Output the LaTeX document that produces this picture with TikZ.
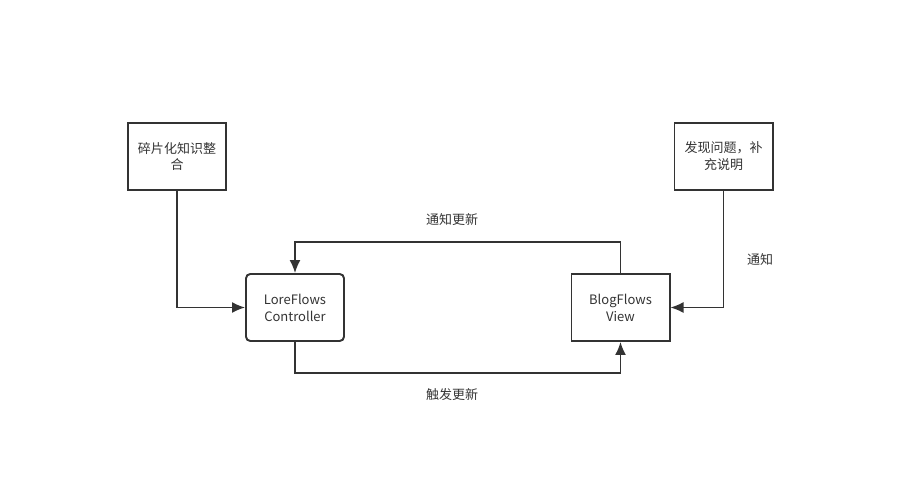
\documentclass[tikz,border=0pt]{standalone}
\usepackage{fontspec}
\setmainfont{Noto Sans CJK SC}
\usepackage{xcolor}
\usepackage{tikz}
\usetikzlibrary{positioning}
\usetikzlibrary{arrows.meta}
\definecolor{ink}{HTML}{333333}
\tikzset{>={Latex[width=2.2mm,length=2.6mm]}}

\begin{document}
\begin{tikzpicture}[x=0.02cm, y=-0.02cm, box/.style={rectangle, draw=ink, line width=1.1pt, minimum width=2cm-1.1pt, minimum height=1.38cm-1.1pt, align=center, text=ink, font=\fontsize{7.4}{9.6}\selectfont}, roundbox/.style={box, rounded corners=2.5pt}, lbl/.style={text=ink, font=\fontsize{7.4}{9.6}\selectfont}, link/.style={draw=ink, line width=0.85pt}]
    \useasboundingbox (0,0) rectangle (901,476);

    %Nodes
    \node[box](frag) at (177,156.5){碎片化知识整\\合};
    \node[box](issue) at (723.5,156.5){发现问题，补\\充说明};
    \node[roundbox](ctrl) at (295,307.5){LoreFlows\\Controller};
    \node[box](view) at (620.5,307.5){BlogFlows\\View};
    \node[lbl](notify_upd) at (452,220){通知更新};
    \node[lbl](trigger_upd) at (452,395){触发更新};
    \node[lbl](notify) at (760,260){通知};

    %Lines
    \draw[link, ->] (frag.south) |- (ctrl.west);
    \draw[link, ->] (issue.south) |- (view.east);
    \draw[link, ->] (view.north) -- ++(0,-31) -| (ctrl.north);
    \draw[link, ->] (ctrl.south) -- ++(0,31) -| (view.south);
\end{tikzpicture}
\end{document}
